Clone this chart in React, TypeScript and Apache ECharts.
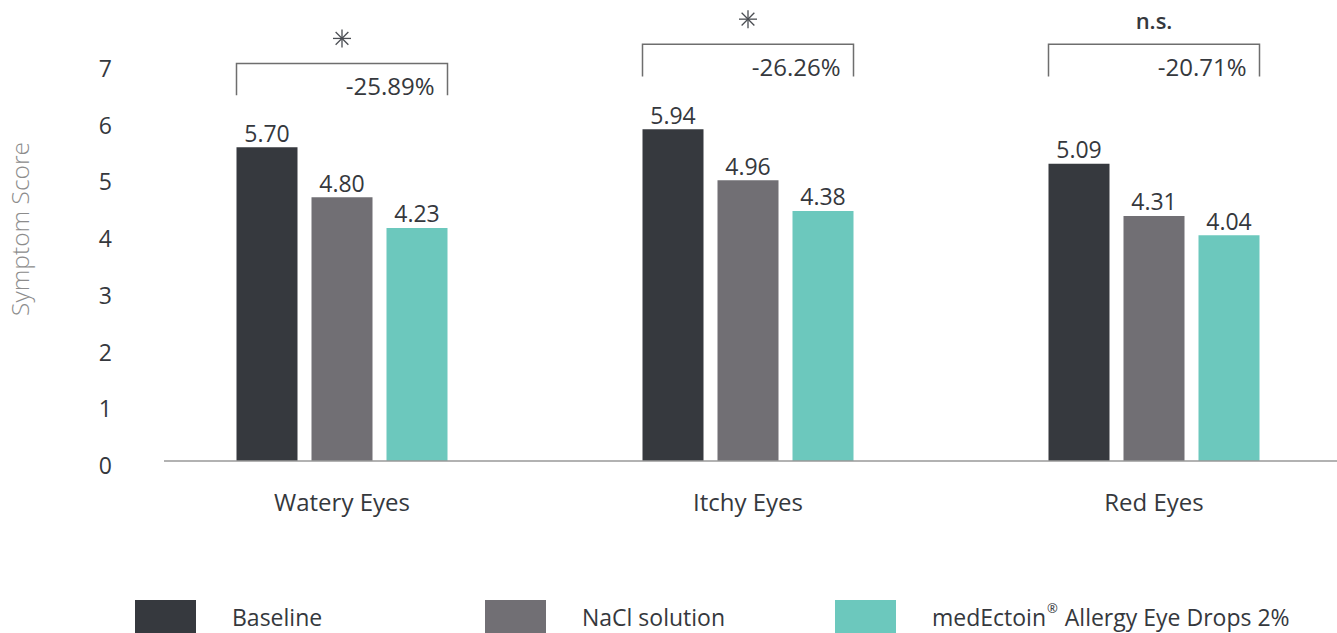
import React, { useEffect, useRef } from "react";
import * as echarts from "echarts";

const categories = ["Watery Eyes", "Itchy Eyes", "Red Eyes"];
const seriesNames = ["Baseline", "NaCl solution", "medEctoin® Allergy Eye Drops 2%"];
const seriesColors = ["#36393e", "#716f74", "#6cc8bd"];

// bar heights as drawn in the picture
const baselineValues = [5.53, 5.85, 5.24];
const naclValues = [4.65, 4.95, 4.32];
const medValues = [4.11, 4.41, 3.98];

// value labels as printed above the bars
const baselineLabels = ["5.70", "5.94", "5.09"];
const naclLabels = ["4.80", "4.96", "4.31"];
const medLabels = ["4.23", "4.38", "4.04"];

// comparison brackets
const changeLabels = ["-25.89%", "-26.26%", "-20.71%"];
const significance = ["*", "*", "n.s."];
const bracketTop = [7.01, 7.35, 7.35];
const bracketBottom = [6.45, 6.78, 6.78];

const yMin = 0;
const yMax = 7;
const yInterval = 1;

const FONT = "'Open Sans', 'Noto Sans', sans-serif";
const TEXT = "#35383d";
const BAR_W = 61;
const BAR_GAP = 14;

export default function App() {
  const ref = useRef<HTMLDivElement>(null);

  useEffect(() => {
    document.body.style.margin = "0";
    if (!ref.current) return;
    const chart = echarts.init(ref.current, undefined, { renderer: "svg" });
    const valueSets = [baselineValues, naclValues, medValues];
    const labelSets = [baselineLabels, naclLabels, medLabels];

    const legends = seriesNames.map((n, i) => ({
      data: [n],
      left: [135, 485, 835][i],
      top: 600,
      padding: 0,
      itemWidth: 61,
      itemHeight: 33,
      icon: "rect",
      selectedMode: false,
      formatter: (name: string) => {
        const k = name.indexOf("®");
        if (k < 0) return `{a|${name}}`;
        return `{a|${name.slice(0, k)}}{sup|®}{a|${name.slice(k + 1)}}`;
      },
      textStyle: {
        fontFamily: FONT,
        fontSize: 23,
        color: TEXT,
        padding: [0, 0, 0, 31],
        rich: {
          a: { fontFamily: FONT, fontSize: 23, color: TEXT, lineHeight: 30 },
          sup: {
            fontFamily: FONT,
            fontSize: 13,
            color: TEXT,
            verticalAlign: "top",
            lineHeight: 30,
            padding: [0, 1, 8, 1],
          },
        },
      },
    }));

    const barSeries = seriesNames.map((n, i) => ({
      name: n,
      type: "bar",
      data: valueSets[i],
      barWidth: BAR_W,
      barGap: `${(BAR_GAP / BAR_W) * 100}%`,
      itemStyle: { color: seriesColors[i] },
      label: {
        show: true,
        position: "top",
        distance: 3,
        fontFamily: FONT,
        fontSize: 23,
        color: TEXT,
        formatter: (p: any) => labelSets[i][p.dataIndex],
      },
    }));

    const bracketSeries = {
      name: "brackets",
      type: "custom",
      silent: true,
      clip: false,
      z: 5,
      encode: { x: 0, y: 1 },
      data: categories.map((_, i) => [i, bracketTop[i], bracketBottom[i]]),
      renderItem: (params: any, api: any) => {
        const i = params.dataIndex;
        const top = api.coord([api.value(0), api.value(1)]);
        const bot = api.coord([api.value(0), api.value(2)]);
        const cx = top[0];
        const half = BAR_W * 1.5 + BAR_GAP;
        const x1 = cx - half;
        const x2 = cx + half;
        const ty = top[1];
        const by = bot[1];
        const children: any[] = [
          {
            type: "polyline",
            shape: { points: [[x1, by], [x1, ty], [x2, ty], [x2, by]] },
            style: { stroke: "#6e6e6e", lineWidth: 1.5, fill: null },
          },
          {
            type: "text",
            x: x2 - 13,
            y: ty + 22,
            style: {
              text: changeLabels[i],
              align: "right",
              verticalAlign: "middle",
              fontFamily: FONT,
              fontSize: 24,
              fill: TEXT,
            },
          },
        ];
        const sig = significance[i];
        const sy = ty - 25;
        if (sig === "*") {
          const r = 9;
          const d = r * Math.SQRT1_2;
          const segs = [
            [cx - r, sy, cx + r, sy],
            [cx, sy - r, cx, sy + r],
            [cx - d, sy - d, cx + d, sy + d],
            [cx - d, sy + d, cx + d, sy - d],
          ];
          segs.forEach((s) =>
            children.push({
              type: "line",
              shape: { x1: s[0], y1: s[1], x2: s[2], y2: s[3] },
              style: { stroke: "#4a4d52", lineWidth: 1.3 },
            })
          );
        } else {
          children.push({
            type: "text",
            x: cx,
            y: ty - 24,
            style: {
              text: sig,
              align: "center",
              verticalAlign: "middle",
              fontFamily: FONT,
              fontSize: 22,
              fontWeight: 600,
              fill: TEXT,
            },
          });
        }
        return { type: "group", children };
      },
    };

    chart.setOption({
      animation: false,
      backgroundColor: "#ffffff",
      textStyle: { fontFamily: FONT },
      legend: legends,
      grid: { left: 139, right: 0, top: 64, bottom: 172, containLabel: false },
      xAxis: {
        type: "category",
        data: categories,
        axisLine: { show: false },
        axisTick: { show: false },
        axisLabel: {
          margin: 28,
          fontFamily: FONT,
          fontSize: 24,
          color: TEXT,
        },
      },
      yAxis: {
        type: "value",
        min: yMin,
        max: yMax,
        interval: yInterval,
        axisLine: { show: false },
        axisTick: { show: false },
        splitLine: { show: false },
        axisLabel: {
          margin: 27,
          fontFamily: FONT,
          fontSize: 23,
          color: TEXT,
          formatter: "{v|{value}}",
          rich: {
            v: { fontFamily: FONT, fontSize: 23, color: TEXT, padding: [8, 0, 0, 0] },
          },
        },
      },
      graphic: [
        {
          type: "line",
          shape: { x1: 164, y1: 461, x2: 1337, y2: 461 },
          style: { stroke: "#999999", lineWidth: 1.5 },
          z: 10,
        },
        {
          type: "text",
          x: 19,
          y: 229,
          rotation: Math.PI / 2,
          style: {
            text: "Symptom Score",
            align: "center",
            verticalAlign: "middle",
            fontFamily: FONT,
            fontSize: 24.5,
            fontWeight: 300,
            fill: "#8c8c8c",
          },
        },
      ],
      series: [...barSeries, bracketSeries],
    });

    return () => chart.dispose();
  }, []);

  return (
    <div style={{ width: 1337, height: 633, overflow: "hidden", position: "relative" }}>
      <div ref={ref} style={{ width: 1357, height: 633 }} />
    </div>
  );
}
